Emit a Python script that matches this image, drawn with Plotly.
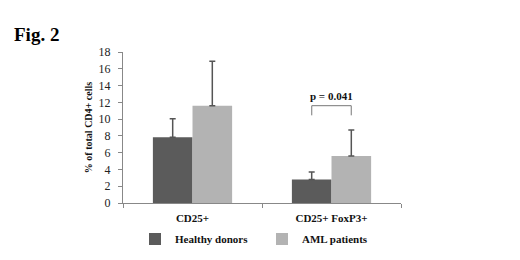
import plotly.graph_objects as go

categories = ["CD25+", "CD25+ FoxP3+"]
healthy = [7.85, 2.8]
healthy_err = [2.2, 0.9]
aml = [11.6, 5.6]
aml_err = [5.3, 3.1]
yticks = [0, 2, 4, 6, 8, 10, 12, 14, 16, 18]
p_label = "p = 0.041"

font = "Liberation Serif"
W, H = 520, 260
L, R, T, B = 123, 119, 52, 57
pw, ph = W - L - R, H - T - B

fig = go.Figure()
fig.add_trace(go.Bar(name="<b>Healthy donors</b>", x=categories, y=healthy,
                     marker=dict(color="#5b5b5b", line=dict(width=0)),
                     error_y=dict(type="data", array=healthy_err, arrayminus=[0, 0],
                                  color="#555555", thickness=1.5, width=3)))
fig.add_trace(go.Bar(name="<b>AML patients</b>", x=categories, y=aml,
                     marker=dict(color="#b3b3b3", line=dict(width=0)),
                     error_y=dict(type="data", array=aml_err, arrayminus=[0, 0],
                                  color="#555555", thickness=1.5, width=3)))

# significance bracket over second group
x0, x1 = 0.858, 1.142
yb, yt = 10.45, 11.6
fig.add_shape(type="path", xref="x", yref="y",
              path=f"M {x0} {yb} L {x0} {yt} L {x1} {yt} L {x1} {yb}",
              line=dict(color="#777777", width=1))
fig.add_annotation(x=1, y=12.75, xref="x", yref="y", text=f"<b>{p_label}</b>",
                   showarrow=False, font=dict(family=font, size=11, color="#111111"))

fig.add_annotation(x=(12 - L) / pw, y=(H - B - 34) / ph, xref="paper", yref="paper",
                   text="<b>Fig. 2</b>", showarrow=False, xanchor="left", yanchor="middle",
                   font=dict(family=font, size=19, color="#000000"))

fig.update_layout(
    width=W, height=H,
    margin=dict(l=L, r=R, t=T, b=B, autoexpand=False),
    paper_bgcolor="white", plot_bgcolor="white",
    barmode="group", bargap=0.43, bargroupgap=0,
    font=dict(family=font, color="#222222"),
    showlegend=True,
    legend=dict(orientation="h", xref="container", yref="container",
                x=135 / W, y=1 - 239 / H, xanchor="left", yanchor="middle",
                font=dict(family=font, size=11, color="#111111"),
                entrywidth=82, entrywidthmode="pixels", itemwidth=30),
)

fig.update_yaxes(range=[0, 18], tickvals=yticks, showgrid=False, zeroline=False,
                 showline=True, linecolor="#888888", linewidth=1,
                 ticks="outside", ticklen=4, tickcolor="#888888", ticklabelstandoff=5,
                 tickfont=dict(family=font, size=12, color="#222222"),
                 title=dict(text="<b>% of total CD4+ cells</b>", standoff=4,
                            font=dict(family=font, size=10, color="#111111")))
fig.update_xaxes(showgrid=False, showline=True, linecolor="#888888", linewidth=1,
                 ticks="outside", ticklen=4, tickcolor="#888888", tickson="boundaries",
                 ticklabelstandoff=5,
                 tickfont=dict(family=font, size=11, color="#111111"),
                 ticktext=["<b>CD25+</b>", "<b>CD25+ FoxP3+</b>"], tickvals=categories)

fig.write_html("out.html", config={"displayModeBar": False},
               post_script="document.body.style.margin='0';")
